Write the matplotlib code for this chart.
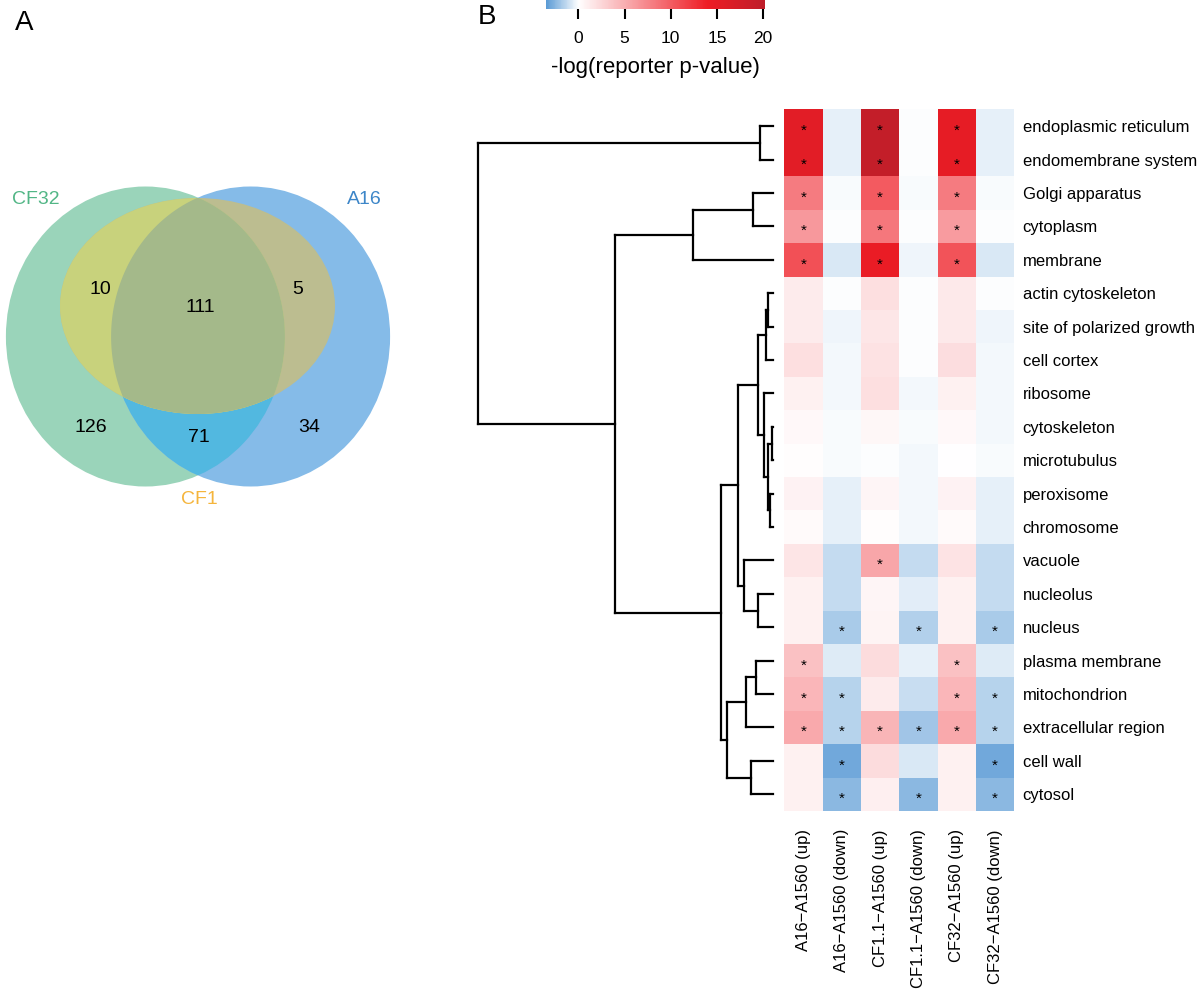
import numpy as np
import matplotlib
matplotlib.use("Agg")
import matplotlib.pyplot as plt
from matplotlib.colors import LinearSegmentedColormap, Normalize
from matplotlib.cm import ScalarMappable
from matplotlib.collections import LineCollection
from matplotlib.patches import Ellipse
from matplotlib.path import Path

plt.rcParams["font.family"] = ["Liberation Sans", "DejaVu Sans"]

# ---------------------------------------------------------------------------
# Panel A data: Venn region counts
# ---------------------------------------------------------------------------
venn_names = ["CF32", "A16", "CF1"]
venn_name_colors = ["#52B686", "#3D86C8", "#F5B53C"]
venn_regions = ["CF32&CF1", "all", "A16&CF1", "CF32", "CF32&A16", "A16"]
venn_counts = [10, 111, 5, 126, 71, 34]

# ---------------------------------------------------------------------------
# Panel B data: GO terms x comparisons
# ---------------------------------------------------------------------------
terms = [
    "endoplasmic reticulum", "endomembrane system", "Golgi apparatus",
    "cytoplasm", "membrane", "actin cytoskeleton", "site of polarized growth",
    "cell cortex", "ribosome", "cytoskeleton", "microtubulus", "peroxisome",
    "chromosome", "vacuole", "nucleolus", "nucleus", "plasma membrane",
    "mitochondrion", "extracellular region", "cell wall", "cytosol",
]
conditions = [
    "A16\u2212A1560 (up)", "A16\u2212A1560 (down)", "CF1.1\u2212A1560 (up)",
    "CF1.1\u2212A1560 (down)", "CF32\u2212A1560 (up)", "CF32\u2212A1560 (down)",
]

a16_up = [15.5, 15.5, 8.1, 6.4, 10.8, 1.3, 1.3, 2.0, 0.9, 0.4, 0.15, 0.8,
          0.3, 1.6, 0.9, 0.9, 3.9, 4.5, 5.3, 0.9, 0.9]
a16_down = [-0.5, -0.5, -0.1, 0.0, -0.8, 0.0, -0.35, -0.2, -0.25, -0.15, -0.15,
            -0.5, -0.5, -1.2, -1.2, -1.8, -0.7, -1.5, -1.5, -3.0, -2.4]
cf11_up = [19.5, 19.5, 10.2, 8.4, 14.5, 2.0, 1.5, 1.8, 2.0, 0.5, 0.0, 0.6,
           0.2, 5.5, 0.6, 0.7, 2.2, 1.3, 4.6, 2.2, 1.0]
cf11_down = [0.0, 0.0, -0.15, 0.0, -0.3, 0.0, -0.05, -0.05, -0.25, -0.15, -0.2,
             -0.2, -0.2, -1.2, -0.6, -1.6, -0.5, -1.1, -2.0, -0.75, -2.4]
cf32_up = [15.0, 15.0, 8.1, 6.2, 10.6, 1.4, 1.4, 2.1, 0.9, 0.4, 0.1, 0.8,
           0.3, 1.7, 0.9, 0.9, 3.9, 4.5, 5.3, 0.9, 0.9]
cf32_down = [-0.5, -0.5, -0.1, 0.0, -0.8, 0.0, -0.35, -0.2, -0.25, -0.2, -0.15,
             -0.5, -0.5, -1.2, -1.2, -1.8, -0.7, -1.5, -1.5, -3.0, -2.4]

# significance marks, one string per term, one char per condition
significant = [
    "*.*.*.", "*.*.*.", "*.*.*.", "*.*.*.", "*.*.*.", "......", "......",
    "......", "......", "......", "......", "......", "......", "..*...",
    "......", ".*.*.*", "*...*.", "**..**", "******", ".*...*", ".*.*.*",
]

# dendrogram merges (left, right, height); leaves 0..20, merge k -> 21 + k
merges = [
    (0, 1, 0.044), (2, 3, 0.068), (22, 4, 0.27), (5, 6, 0.018),
    (24, 7, 0.024), (9, 10, 0.005), (11, 12, 0.010), (26, 27, 0.016),
    (8, 28, 0.031), (25, 29, 0.050), (14, 15, 0.052), (13, 31, 0.10),
    (30, 32, 0.12), (16, 17, 0.057), (34, 18, 0.091), (19, 20, 0.075),
    (35, 36, 0.156), (33, 37, 0.177), (23, 38, 0.535), (21, 39, 1.0),
]

values = np.column_stack([a16_up, a16_down, cf11_up, cf11_down, cf32_up, cf32_down])
n_rows, n_cols = values.shape

vmin, vmax = -3.5, 20.2
cmap = LinearSegmentedColormap.from_list(
    "rep",
    [((v - vmin) / (vmax - vmin), c) for v, c in
     [(vmin, "#5B9BD5"), (0.0, "#FFFFFF"), (14.0, "#EE1C24"), (vmax, "#BE1E2A")]],
)
norm = Normalize(vmin=vmin, vmax=vmax)

W, H = 1200, 994
fig = plt.figure(figsize=(W / 100, H / 100), dpi=100)


def px_axes(x0, y0, x1, y1):
    return fig.add_axes([x0 / W, 1 - y1 / H, (x1 - x0) / W, (y1 - y0) / H])


# ---------------------------------------------------------------------------
# Panel A: Venn diagram
# ---------------------------------------------------------------------------
axv = px_axes(0, 0, 460, H)
axv.set_xlim(0, 460)
axv.set_ylim(H, 0)
axv.axis("off")

green = dict(xy=(145.4, 336.5), width=279, height=300)
blue = dict(xy=(250.6, 336.5), width=279, height=300)
yellow = dict(xy=(197.5, 306), width=275, height=216)

g_patch = Ellipse(**green, facecolor="#9AD4BA", edgecolor="none")
b_patch = Ellipse(**blue, facecolor="#85BBE8", edgecolor="none")
axv.add_patch(g_patch)
axv.add_patch(b_patch)
gb = Ellipse(**blue, facecolor="#52B8E0", edgecolor="none")
axv.add_patch(gb)
gb.set_clip_path(g_patch)

yb = Ellipse(**yellow, facecolor="#BCBD90", edgecolor="none")
axv.add_patch(yb)
yg = Ellipse(**yellow, facecolor="#C8D27C", edgecolor="none")
axv.add_patch(yg)
yg.set_clip_path(g_patch)


def inside(pts, e):
    cx, cy = e["xy"]
    return ((pts[:, 0] - cx) / (e["width"] / 2)) ** 2 + ((pts[:, 1] - cy) / (e["height"] / 2)) ** 2 <= 1


t = np.linspace(0, 2 * np.pi, 1440)
g_pts = np.column_stack([green["xy"][0] + green["width"] / 2 * np.cos(t),
                         green["xy"][1] + green["height"] / 2 * np.sin(t)])
b_pts = np.column_stack([blue["xy"][0] + blue["width"] / 2 * np.cos(t),
                         blue["xy"][1] + blue["height"] / 2 * np.sin(t)])
lens = np.vstack([g_pts[inside(g_pts, blue)], b_pts[inside(b_pts, green)]])
lc = lens.mean(axis=0)
lens = lens[np.argsort(np.arctan2(lens[:, 1] - lc[1], lens[:, 0] - lc[0]))]
lens_path = Path(np.vstack([lens, lens[:1]]), closed=True)

ygb = Ellipse(**yellow, facecolor="#A4B98A", edgecolor="none")
axv.add_patch(ygb)
ygb.set_clip_path(lens_path, axv.transData)

count_pos = [(100, 289), (200, 307), (298, 289), (91, 427), (199, 438), (309, 427)]
for (x, y), n in zip(count_pos, venn_counts):
    axv.text(x, y, str(n), fontsize=14, ha="center", va="center")

name_pos = [(36, 199), (364, 200), (199, 500)]
for (x, y), name, c in zip(name_pos, venn_names, venn_name_colors):
    axv.text(x, y, name, fontsize=14, color=c, ha="center", va="center")

fig.text(24 / W, 1 - 23 / H, "A", fontsize=20, ha="center", va="center")
fig.text(487 / W, 1 - 17 / H, "B", fontsize=20, ha="center", va="center")

# ---------------------------------------------------------------------------
# Panel B: heatmap
# ---------------------------------------------------------------------------
hm_top, hm_bot = 109.5, 811.0
axh = px_axes(784.3, hm_top, 1014.3, hm_bot)
axh.pcolormesh(np.arange(n_cols + 1), np.arange(n_rows + 1), values,
               cmap=cmap, norm=norm, edgecolors="none")
axh.set_xlim(0, n_cols)
axh.set_ylim(n_rows, 0)
for s in axh.spines.values():
    s.set_visible(False)
axh.yaxis.tick_right()
axh.set_yticks(np.arange(n_rows) + 0.5)
axh.set_yticklabels(terms, fontsize=12)
axh.set_xticks(np.arange(n_cols) + 0.5)
axh.set_xticklabels(conditions, fontsize=12, rotation=90, ha="center", va="top")
axh.tick_params(axis="y", length=0, pad=6)
axh.tick_params(axis="x", length=0, pad=13)

for i, row in enumerate(significant):
    for j, ch in enumerate(row):
        if ch == "*":
            axh.text(j + 0.5, i + 0.64, "*", fontsize=11, ha="center", va="center")

# dendrogram
axd = px_axes(460, hm_top, 784.3, hm_bot)
axd.set_ylim(n_rows, 0)
axd.set_xlim(1.061, -0.038)
axd.axis("off")

pos = {i: (i + 0.5, 0.0) for i in range(n_rows)}
segs = []
for k, (a, b, h) in enumerate(merges):
    ya, ha = pos[a]
    yb_, hb = pos[b]
    segs += [[(ha, ya), (h, ya)], [(hb, yb_), (h, yb_)], [(h, ya), (h, yb_)]]
    pos[n_rows + k] = ((ya + yb_) / 2, h)
axd.add_collection(LineCollection(segs, colors="black", linewidths=1.6,
                                  capstyle="projecting"))

# colour key
cax = px_axes(546, 0.5, 765, 8.5)
cb = fig.colorbar(ScalarMappable(norm=norm, cmap=cmap), cax=cax, orientation="horizontal")
cb.outline.set_visible(False)
cb.set_ticks([0, 5, 10, 15, 20])
cax.tick_params(length=7, width=1.5, pad=9, labelsize=12.5)
cb.set_label("-log(reporter p-value)", fontsize=16, labelpad=8)

fig.savefig("out.png", dpi=100)
